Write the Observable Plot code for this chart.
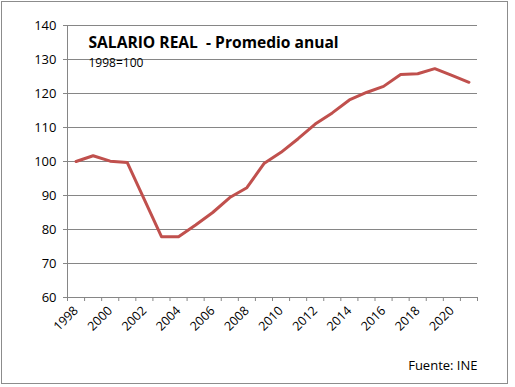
<!DOCTYPE html>
<html><head><meta charset="utf-8">
<script src="https://cdn.jsdelivr.net/npm/d3@7"></script>
<script src="https://cdn.jsdelivr.net/npm/@observablehq/plot@0.6"></script>
<style>
body{margin:0;background:#fff}
#wrap{position:relative;width:515px;height:387px}
#border{position:absolute;left:1px;top:1px;width:507px;height:383px;border:1px solid #8c8c8c;box-sizing:border-box;pointer-events:none}
#wrap svg{position:absolute;left:0;top:0}
</style></head><body><div id="wrap"><div id="border"></div></div>
<script>
const years = [1998,1999,2000,2001,2002,2003,2004,2005,2006,2007,2008,2009,2010,2011,2012,2013,2014,2015,2016,2017,2018,2019,2020,2021];
const values = [100,101.7,100.1,99.7,88.8,77.9,77.9,81.3,85.0,89.4,92.3,99.4,102.7,106.7,111.0,114.3,118.1,120.3,122.1,125.6,125.8,127.3,125.3,123.3];
const yTicks = [60,70,80,90,100,110,120,130,140];
const xLabelYears = [1998,2000,2002,2004,2006,2008,2010,2012,2014,2016,2018,2020];
const title = "SALARIO REAL  - Promedio anual";
const subtitle = "1998=100";
const source = "Fuente: INE";

const data = years.map((y, i) => ({year: y, value: values[i]}));
const boundaries = years.map(y => y - 0.5).concat([years[years.length - 1] + 0.5]);
const grid = "#868686";

const chart = Plot.plot({
  width: 515, height: 387,
  marginLeft: 67, marginRight: 38, marginTop: 25, marginBottom: 90,
  style: {fontFamily: "'Open Sans', sans-serif", fontSize: "12px", background: "transparent", color: "#000"},
  x: {type: "linear", domain: [boundaries[0], boundaries[boundaries.length - 1]]},
  y: {domain: [60, 140]},
  marks: [
    Plot.ruleY(yTicks, {stroke: grid, strokeWidth: 1}),
    Plot.ruleX([boundaries[0]], {stroke: grid, y1: 60, y2: 140}),
    Plot.axisY({ticks: yTicks, tickSize: 4, tickPadding: 7, stroke: grid, fill: "#000", fontSize: 13, label: null}),
    Plot.axisX({ticks: boundaries, tickSize: 4, tickFormat: () => "", stroke: grid, label: null}),
    Plot.axisX({ticks: xLabelYears, tickSize: 0, tickPadding: 11, tickRotate: -45, tickFormat: d => String(d), fill: "#000", fontSize: 12.5, label: null}),
    Plot.line(data, {x: "year", y: "value", stroke: "#C0504D", strokeWidth: 3, strokeLinejoin: "round"}),
    Plot.text([title], {frameAnchor: "top-left", dx: 21, dy: 11, lineAnchor: "top", textAnchor: "start", fontSize: 15.6, fontWeight: "bold", fill: "#000"}),
    Plot.text([subtitle], {frameAnchor: "top-left", dx: 21, dy: 33, lineAnchor: "top", textAnchor: "start", fontSize: 12, fill: "#000"}),
    Plot.text([source], {frameAnchor: "bottom-right", dx: 0, dy: 63, lineAnchor: "top", textAnchor: "end", fontSize: 13, fill: "#000"})
  ]
});
document.getElementById("wrap").appendChild(chart);
</script>
</body></html>
